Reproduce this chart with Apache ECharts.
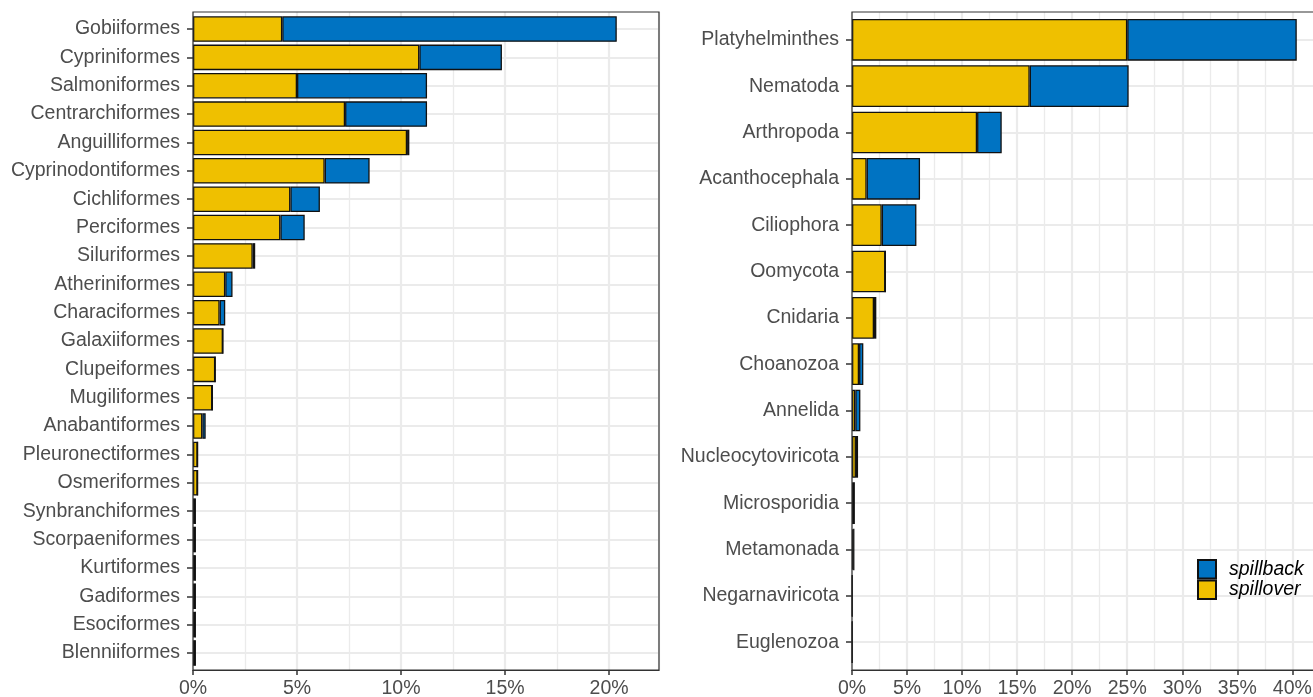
<!DOCTYPE html>
<html>
<head>
<meta charset="utf-8">
<script src="https://cdn.jsdelivr.net/npm/echarts@6/dist/echarts.min.js"></script>
<style>
  html, body { margin: 0; padding: 0; background: #ffffff; }
  #chart { width: 1313px; height: 697px; }
</style>
</head>
<body>
<div id="chart"></div>
<script>
// Fish orders (host side), share of records in percent
const orders = ['Gobiiformes', 'Cypriniformes', 'Salmoniformes', 'Centrarchiformes', 'Anguilliformes',
  'Cyprinodontiformes', 'Cichliformes', 'Perciformes', 'Siluriformes', 'Atheriniformes', 'Characiformes',
  'Galaxiiformes', 'Clupeiformes', 'Mugiliformes', 'Anabantiformes', 'Pleuronectiformes', 'Osmeriformes',
  'Synbranchiformes', 'Scorpaeniformes', 'Kurtiformes', 'Gadiformes', 'Esociformes', 'Blenniiformes'];
const orderSpillover = [4.29, 10.88, 5.00, 7.31, 10.29, 6.33, 4.68, 4.20, 2.87, 1.55, 1.28,
  1.44, 1.07, 0.93, 0.45, 0.22, 0.22, 0.11, 0.11, 0.11, 0.11, 0.11, 0.11];
const orderSpillback = [16.08, 3.97, 6.25, 3.94, 0.11, 2.16, 1.42, 1.17, 0.12, 0.35, 0.27,
  0, 0, 0, 0.16, 0, 0, 0, 0, 0, 0, 0, 0];

// Parasite phyla, share of records in percent
const phyla = ['Platyhelminthes', 'Nematoda', 'Arthropoda', 'Acanthocephala', 'Ciliophora', 'Oomycota',
  'Cnidaria', 'Choanozoa', 'Annelida', 'Nucleocytoviricota', 'Microsporidia', 'Metamonada',
  'Negarnaviricota', 'Euglenozoa'];
const phylumSpillover = [25.0, 16.14, 11.36, 1.33, 2.70, 3.03, 2.00, 0.64, 0.30, 0.36, 0.20, 0.10, 0.03, 0.03];
const phylumSpillback = [15.4, 8.99, 2.24, 4.85, 3.15, 0, 0.21, 0.39, 0.46, 0.19, 0, 0.12, 0, 0];

const seriesNames = ['spillback', 'spillover'];
const BLUE = '#0073C2';
const YELLOW = '#EFC000';
const GRID_LINE = '#EBEBEB';
const INK = '#333333';
const LABEL = '#4D4D4D';
const FONT = 'Liberation Sans, Arial, sans-serif';

// Panel frames (pixel boxes) and x extents
const panels = [
  { cats: orders, over: orderSpillover, back: orderSpillback, left: 193, top: 12, width: 466, height: 658, xMax: 22.4 },
  { cats: phyla, over: phylumSpillover, back: phylumSpillback, left: 852, top: 12, width: 488.8, height: 658, xMax: 44.4 }
];

const grid = [], xAxis = [], yAxis = [], series = [], frames = [];

panels.forEach((p, i) => {
  const n = p.cats.length;
  const band = p.height / (n + 0.2);          // discrete scale padded by 0.6 band at each end
  const frameIdx = grid.length;
  // frame grid: vertical grid lines and the percent axis
  grid.push({ left: p.left, top: p.top, width: p.width, height: p.height, outerBoundsMode: 'none' });
  // data grid: category bands
  grid.push({ left: p.left, top: p.top + 0.1 * band, width: p.width, height: n * band, outerBoundsMode: 'none' });

  frames.push({
    type: 'rect', z: 100, silent: true,
    shape: { x: p.left, y: p.top, width: p.width, height: p.height },
    style: { fill: null, stroke: INK, lineWidth: 1.2 }
  });

  xAxis.push({
    gridIndex: frameIdx, type: 'value', min: 0, max: p.xMax, interval: 5,
    axisLine: { show: true, lineStyle: { color: INK, width: 1.2 } },
    axisTick: { show: true, length: 5, lineStyle: { color: INK, width: 1.5 } },
    axisLabel: { color: LABEL, fontSize: 19.5, fontFamily: FONT, margin: 9,
      showMaxLabel: false, formatter: v => (v % 5 === 0 ? v + '%' : '') },
    splitLine: { show: true, lineStyle: { color: GRID_LINE, width: 2.2 } },
    minorTick: { show: false, splitNumber: 2 },
    minorSplitLine: { show: true, lineStyle: { color: GRID_LINE, width: 1.3 } }
  });
  yAxis.push({ gridIndex: frameIdx, type: 'value', min: 0, max: 1, show: false });

  xAxis.push({ gridIndex: frameIdx + 1, type: 'value', min: 0, max: p.xMax, show: false,
    splitLine: { show: false } });
  yAxis.push({
    gridIndex: frameIdx + 1, type: 'category', data: p.cats, inverse: true,
    axisLine: { show: false },
    axisTick: { show: true, alignWithLabel: true, length: 6, lineStyle: { color: INK, width: 1.5 } },
    axisLabel: { color: LABEL, fontSize: 19.5, fontFamily: FONT, margin: 13 },
    splitLine: { show: true, alignWithLabel: true, lineStyle: { color: GRID_LINE, width: 2.2 } }
  });

  const axisIdx = frameIdx + 1;
  const barStyle = color => ({ color: color, borderColor: '#111111', borderWidth: 1.3 });
  series.push({
    name: 'spillover', type: 'bar', stack: 'total' + i, xAxisIndex: axisIdx, yAxisIndex: axisIdx,
    data: p.over, barWidth: '90%', itemStyle: barStyle(YELLOW), silent: true
  });
  series.push({
    name: 'spillback', type: 'bar', stack: 'total' + i, xAxisIndex: axisIdx, yAxisIndex: axisIdx,
    data: p.back, barWidth: '90%', itemStyle: barStyle(BLUE), silent: true
  });
});

const chart = echarts.init(document.getElementById('chart'), null, { renderer: 'canvas' });
chart.setOption({
  animation: false,
  backgroundColor: '#ffffff',
  grid: grid,
  xAxis: xAxis,
  yAxis: yAxis,
  series: series,
  graphic: frames,
  legend: {
    data: seriesNames,
    orient: 'vertical',
    left: 1197, top: 559,
    padding: 0,
    itemWidth: 18, itemHeight: 18.5, itemGap: 0,
    icon: 'rect',
    selectedMode: false,
    textStyle: { color: '#000000', fontStyle: 'italic', fontSize: 19.5, fontFamily: FONT,
      lineHeight: 18.5, padding: [0, 0, 0, 8] }
  }
});
</script>
</body>
</html>
